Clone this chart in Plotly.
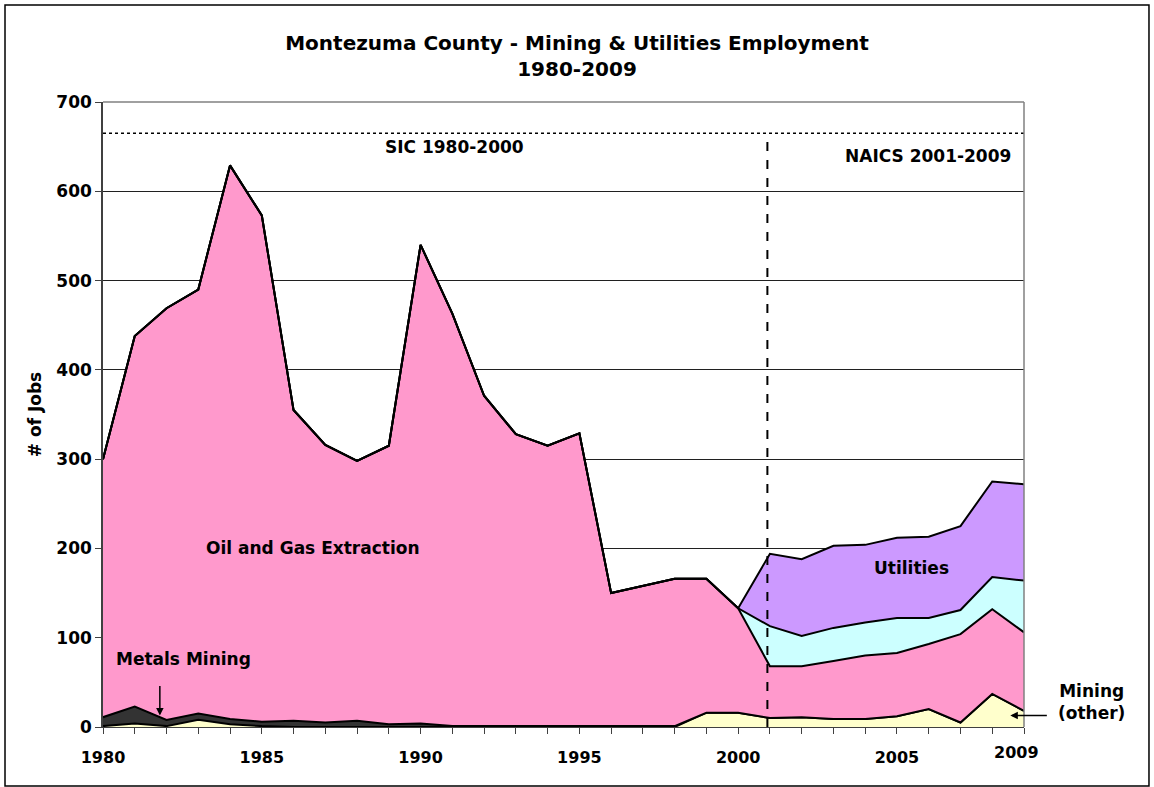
import plotly.graph_objects as go

# ---------------- data ----------------
years = [1980, 1981, 1982, 1983, 1984, 1985, 1986, 1987, 1988, 1989,
         1990, 1991, 1992, 1993, 1994, 1995, 1996, 1997, 1998, 1999,
         2000, 2001, 2002, 2003, 2004, 2005, 2006, 2007, 2008, 2009]

mining_other = [1, 4, 1, 8, 3, 1, 0, 0, 0, 0,
                0, 0, 0, 0, 0, 0, 0, 0, 0, 16,
                16, 10, 11, 9, 9, 12, 20, 5, 37, 18]

metals_mining = [10, 19, 7, 7, 6, 5, 7, 5, 7, 3,
                 4, 1, 1, 1, 1, 1, 1, 1, 1, 0,
                 0, 0, 0, 0, 0, 0, 0, 0, 0, 0]

oil_gas = [289, 415, 461, 475, 620, 567, 348, 311, 291, 312,
           536, 462, 370, 327, 314, 328, 149, 157, 165, 150,
           117, 58, 57, 65, 71, 71, 73, 99, 95, 88]

support_mining = [0, 0, 0, 0, 0, 0, 0, 0, 0, 0,
                  0, 0, 0, 0, 0, 0, 0, 0, 0, 0,
                  0, 45, 34, 37, 37, 39, 29, 27, 36, 58]

utilities = [0, 0, 0, 0, 0, 0, 0, 0, 0, 0,
             0, 0, 0, 0, 0, 0, 0, 0, 0, 0,
             0, 81, 86, 92, 87, 90, 91, 94, 107, 108]

x_label_years = [1980, 1985, 1990, 1995, 2000, 2005]
y_tick_vals = [0, 100, 200, 300, 400, 500, 600, 700]

title_text = "Montezuma County - Mining & Utilities Employment<br>1980-2009"
sic_label = "SIC 1980-2000"
naics_label = "NAICS 2001-2009"
classification_break = 2000.92
break_level = 665

# ---------------- figure ----------------
FONT = "DejaVu Sans"
series = [
    ("Mining (other)", mining_other, "#FFFFCC"),
    ("Metals Mining", metals_mining, "#333333"),
    ("Oil and Gas Extraction", oil_gas, "#FF99CC"),
    ("Support Activities for Mining", support_mining, "#CCFFFF"),
    ("Utilities", utilities, "#CC99FF"),
]

fig = go.Figure()
for name, vals, color in series:
    fig.add_trace(go.Scatter(
        x=years, y=vals, name=name, mode="lines",
        stackgroup="one", fillcolor=color,
        line=dict(color="black", width=2),
    ))

# dotted horizontal separator line and dashed vertical break
fig.add_trace(go.Scatter(
    x=[years[0], years[-1]], y=[break_level, break_level], mode="lines",
    line=dict(color="black", width=1.5, dash="dot"), showlegend=False,
    hoverinfo="skip"))
fig.add_trace(go.Scatter(
    x=[classification_break, classification_break], y=[0, break_level], mode="lines",
    line=dict(color="black", width=2, dash="dash"), showlegend=False,
    hoverinfo="skip"))

ann_font = dict(family=FONT, size=17, color="black", weight="bold")
annotations = [
    dict(x=1991.06, y=650, text=sic_label),
    dict(x=2005.98, y=639, text=naics_label),
    dict(x=1986.6, y=200, text="Oil and Gas Extraction"),
    dict(x=2005.45, y=178, text="Utilities"),
    dict(x=1982.55, y=76, text="Metals Mining"),
]
for a in annotations:
    fig.add_annotation(xref="x", yref="y", showarrow=False, font=ann_font,
                       xanchor="center", yanchor="middle", **a)

# Mining (other) label, placed right of the plot area
fig.add_annotation(xref="paper", yref="paper", x=1.0732, y=0.04,
                   text="Mining<br>(other)", showarrow=False,
                   xanchor="center", yanchor="middle", font=ann_font)

# 2009 axis label
fig.add_annotation(xref="x", yref="paper", x=2008.75, y=-0.04, text="2009",
                   showarrow=False, yanchor="middle",
                   font=dict(family=FONT, size=16, color="black", weight="bold"))

# arrows
fig.add_annotation(xref="x", yref="y", x=1981.79, y=13, ax=0, ay=-31,
                   text="", showarrow=True, arrowhead=2, arrowsize=1,
                   arrowwidth=1.5, arrowcolor="black")
fig.add_annotation(xref="x", yref="y", x=2008.57, y=13, ax=38, ay=0,
                   text="", showarrow=True, arrowhead=2, arrowsize=1,
                   arrowwidth=1.5, arrowcolor="black")

# outer chart border
fig.add_shape(type="rect", xref="paper", yref="paper",
              x0=-0.1064, x1=1.1357, y0=-0.0944, y1=1.1552,
              line=dict(color="black", width=1.5), fillcolor="rgba(0,0,0,0)")

x_tick_text = [str(y) if y in x_label_years else "" for y in years]

fig.update_layout(
    width=1154, height=787,
    margin=dict(l=103, r=130, t=102, b=60),
    paper_bgcolor="white", plot_bgcolor="white",
    showlegend=False,
    font=dict(family=FONT, size=16, color="black", weight="bold"),
    title=dict(text=title_text, x=0.5, xanchor="center", xref="container",
               y=0.936, yanchor="top", yref="container",
               font=dict(family=FONT, size=20, color="black", weight="bold")),
    xaxis=dict(range=[1980, 2009], tickvals=years, ticktext=x_tick_text,
               ticks="outside", ticklen=6, tickcolor="#404040",
               ticklabelstandoff=10,
               showline=True, linecolor="#404040", linewidth=1, mirror=False,
               showgrid=False, zeroline=False,
               tickfont=dict(family=FONT, size=16, color="black", weight="bold")),
    yaxis=dict(range=[0, 700], tickvals=y_tick_vals,
               ticks="outside", ticklen=6, tickcolor="#404040",
               showline=True, linecolor="#404040", linewidth=1.5, mirror=False,
               showgrid=True, gridcolor="#202020", gridwidth=1, zeroline=False,
               title=dict(text="# of Jobs", standoff=10,
                          font=dict(family=FONT, size=17, color="black", weight="bold")),
               tickfont=dict(family=FONT, size=17, color="black", weight="bold")),
)

# grey plot-area frame on top and right
fig.add_shape(type="line", xref="paper", yref="paper", x0=0, x1=1, y0=1, y1=1,
              line=dict(color="#808080", width=1.5), layer="above")
fig.add_shape(type="line", xref="paper", yref="paper", x0=1, x1=1, y0=0, y1=1,
              line=dict(color="#808080", width=1.5), layer="above")

fig.write_html("out.html", config={"displayModeBar": False},
               post_script="document.body.style.margin='0';document.body.style.overflow='hidden';")
